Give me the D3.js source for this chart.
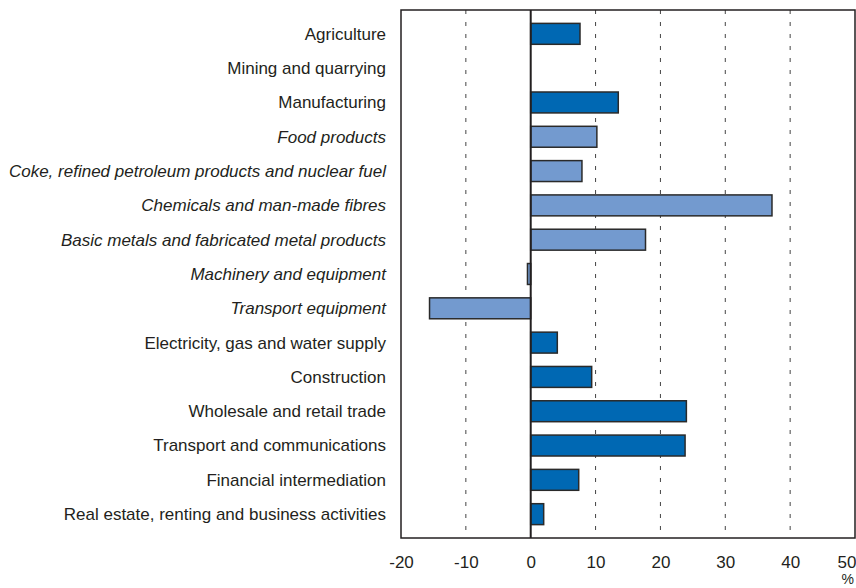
<!DOCTYPE html>
<html>
<head>
<meta charset="utf-8">
<script src="https://cdn.jsdelivr.net/npm/d3@7"></script>
<style>
  body { margin: 0; background: #fff; }
  svg text { font-family: "Liberation Sans Narrow", "Liberation Sans", Arial, sans-serif; fill: #231f20; }
</style>
</head>
<body>
<div id="chart"></div>
<script>
// sectors, top to bottom
const categories = [
    'Agriculture',
    'Mining and quarrying',
    'Manufacturing',
    'Food products',
    'Coke, refined petroleum products and nuclear fuel',
    'Chemicals and man-made fibres',
    'Basic metals and fabricated metal products',
    'Machinery and equipment',
    'Transport equipment',
    'Electricity, gas and water supply',
    'Construction',
    'Wholesale and retail trade',
    'Transport and communications',
    'Financial intermediation',
    'Real estate, renting and business activities'
];
// % values (null = no bar)
const values = [7.6, null, 13.5, 10.2, 7.9, 37.2, 17.7, -0.5, -15.6, 4.1, 9.4, 24.0, 23.8, 7.4, 2.0];
// manufacturing sub-branches are drawn italic, lighter blue
const subSector = [false, false, false, true, true, true, true, true, true, false, false, false, false, false, false];
const xTicks = [-20, -10, 0, 10, 20, 30, 40, 50];

const width = 856, height = 588;
const plotLeft = 401, plotRight = 855, plotTop = 10, plotBottom = 538;

const svg = d3.select('#chart').append('svg')
    .attr('width', width)
    .attr('height', height);

const x = d3.scaleLinear().domain([-20, 50]).range([plotLeft, plotRight]);
const y = d3.scaleBand().domain(categories).range([plotTop, plotBottom]).padding(0.39);

const rows = categories.map((c, i) => ({ name: c, value: values[i], sub: subSector[i] }));

// dashed gridlines
svg.append('g')
    .selectAll('line')
    .data(xTicks.filter(t => t !== 0 && t !== -20 && t !== 50))
    .enter()
    .append('line')
    .attr('x1', d => x(d)).attr('x2', d => x(d))
    .attr('y1', plotTop).attr('y2', plotBottom)
    .attr('stroke', '#444')
    .attr('stroke-width', 1)
    .attr('stroke-dasharray', '4,8');

// bars
svg.append('g')
    .selectAll('rect')
    .data(rows.filter(d => d.value !== null))
    .enter()
    .append('rect')
    .attr('x', d => x(Math.min(0, d.value)))
    .attr('y', d => y(d.name))
    .attr('width', d => Math.abs(x(d.value) - x(0)))
    .attr('height', y.bandwidth())
    .attr('fill', d => d.sub ? '#739acf' : '#0068b3')
    .attr('stroke', '#2a2a2a')
    .attr('stroke-width', 1.5);

// zero line
svg.append('line')
    .attr('x1', x(0)).attr('x2', x(0))
    .attr('y1', plotTop).attr('y2', plotBottom)
    .attr('stroke', '#231f20')
    .attr('stroke-width', 2);

// frame
svg.append('rect')
    .attr('x', plotLeft).attr('y', plotTop)
    .attr('width', plotRight - plotLeft).attr('height', plotBottom - plotTop)
    .attr('fill', 'none')
    .attr('stroke', '#231f20')
    .attr('stroke-width', 1.5);

// category labels
svg.append('g')
    .selectAll('text')
    .data(rows)
    .enter()
    .append('text')
    .attr('x', 386)
    .attr('y', d => y(d.name) + y.bandwidth() / 2)
    .attr('dy', '0.35em')
    .attr('text-anchor', 'end')
    .attr('font-size', '17px')
    .attr('font-style', d => d.sub ? 'italic' : 'normal')
    .text(d => d.name);

// x axis labels (plain hyphen for negatives, as in the original)
const xAxis = d3.axisBottom(x).tickValues(xTicks).tickSize(0).tickPadding(18)
    .tickFormat(d => String(d));
const gx = svg.append('g')
    .attr('transform', `translate(0,${plotBottom})`)
    .call(xAxis);
gx.select('.domain').remove();
gx.selectAll('text')
    .attr('font-size', '17px')
    .attr('font-family', '"Liberation Sans Narrow", "Liberation Sans", Arial, sans-serif')
    .attr('fill', '#231f20')
    .attr('text-anchor', d => d === 50 ? 'end' : 'middle')
    .attr('x', d => d === 50 ? 1 : 0);

svg.append('text')
    .attr('x', 854)
    .attr('y', 584)
    .attr('text-anchor', 'end')
    .attr('font-size', '14px')
    .text('%');
</script>
</body>
</html>
